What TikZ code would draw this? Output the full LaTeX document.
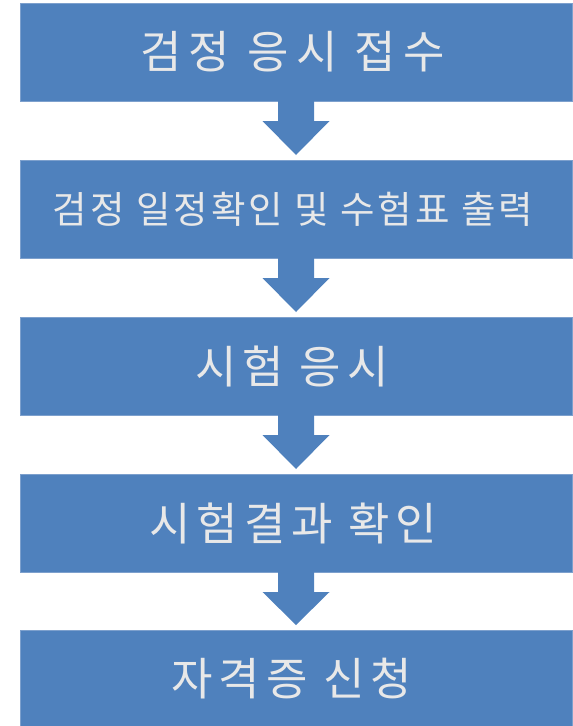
\documentclass[tikz,border=0pt]{standalone}
\usepackage{fontspec}
\newfontfamily\krwide[LetterSpace=13]{Noto Sans CJK KR}
\newfontfamily\krwider[LetterSpace=16]{Noto Sans CJK KR}
\newfontfamily\krnarrow[LetterSpace=8]{Noto Sans CJK KR}
\usetikzlibrary{calc}
\definecolor{boxblue}{RGB}{79,129,189}
\definecolor{edgeblue}{RGB}{125,160,205}
\definecolor{txtgray}{RGB}{232,232,232}
\tikzset{
  stepbox/.style={rectangle, fill=boxblue, draw=edgeblue, line width=0.6pt,
    minimum width=552pt, minimum height=98pt, inner sep=0pt, outer sep=0pt,
    text=txtgray},
  bigtext/.style={font=\krwide\fontsize{45}{45}\selectfont},
  widetext/.style={font=\krwider\fontsize{45}{45}\selectfont},
  smalltext/.style={font=\krnarrow\fontsize{37.5}{37.5}\selectfont},
  blockarrow/.style={fill=boxblue, draw=none}
}
\newcommand\flowarrow[2]{%
  \fill[blockarrow] ($(#1.south)+(-18,0)$) -- ($(#1.south)+(-18,20)$)
    -- ($(#1.south)+(-33.5,20)$) -- ($(#2.north)+(0,-5)$)
    -- ($(#1.south)+(33.5,20)$) -- ($(#1.south)+(18,20)$)
    -- ($(#1.south)+(18,0)$) -- cycle;}
\begin{document}
\begin{tikzpicture}[x=1pt,y=-1pt]
\useasboundingbox (0,0) rectangle (573,726);
\node[stepbox, widetext] (b1) at (296,52)  {\hspace*{-7pt}검정 응시 접수};
\node[stepbox, smalltext] (b2) at (296,209) {\hspace*{-6pt}검정 일정확인 및 수험표 출력};
\node[stepbox, bigtext] (b3) at (296,366) {\hspace*{-8pt}시험 응시};
\node[stepbox, bigtext] (b4) at (296,523) {\hspace*{-5pt}시험결과 확인};
\node[stepbox, bigtext] (b5) at (296,679) {\hspace*{-8pt}자격증 신청};
\flowarrow{b1}{b2}
\flowarrow{b2}{b3}
\flowarrow{b3}{b4}
\flowarrow{b4}{b5}
\end{tikzpicture}
\end{document}
